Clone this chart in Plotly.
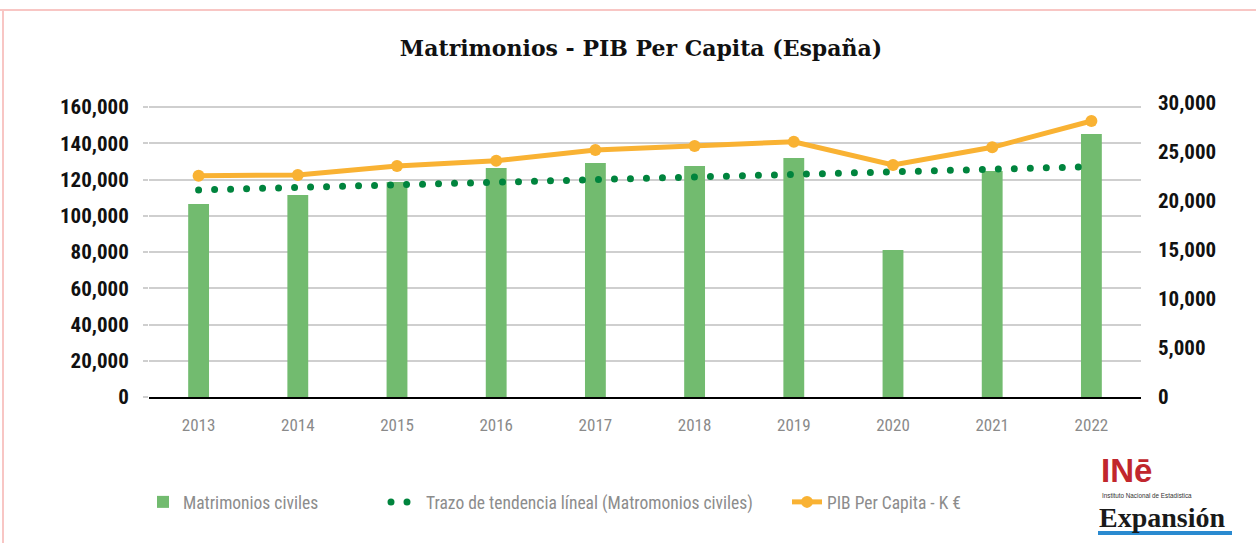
import plotly.graph_objects as go

# ---------------- data ----------------
years = ["2013", "2014", "2015", "2016", "2017", "2018", "2019", "2020", "2021", "2022"]
matrimonios_civiles = [106500, 111400, 118600, 126300, 129100, 127400, 131900, 81100, 124700, 145100]
pib_per_capita = [22580, 22650, 23570, 24110, 25200, 25610, 26050, 23670, 25480, 28160]
trend_years = ["2013", "2022"]
trend_values = [114200, 127100]

left_ticks = [0, 20000, 40000, 60000, 80000, 100000, 120000, 140000, 160000]
right_ticks = [0, 5000, 10000, 15000, 20000, 25000, 30000]

title_text = "Matrimonios - PIB Per Capita (España)"
name_bars = "Matrimonios civiles"
name_trend = "Trazo de tendencia líneal (Matromonios civiles)"
name_pib = "PIB Per Capita - K €"

# ---------------- styling ----------------
W, H = 1256, 543
ML, MR, MT, MB = 149, 115, 103, 146
PW, PH = W - ML - MR, H - MT - MB

def px_x(px):
    return (px - ML) / PW

def px_y(py):
    return (H - MB - py) / PH

NARROW = "Roboto Condensed, Roboto, sans-serif"
BAR_C = "#72BB6F"
TREND_C = "#00843D"
PIB_C = "#F9B233"
GRID_C = "#CFCFCF"
LEG_C = "#8C8C8C"

fig = go.Figure()

fig.add_trace(go.Bar(
    x=years, y=matrimonios_civiles, name=name_bars,
    marker=dict(color=BAR_C, line=dict(width=0)), width=0.21,
    legend="legend", yaxis="y", showlegend=True,
))
fig.add_trace(go.Scatter(
    x=trend_years, y=trend_values, name=name_trend, mode="lines",
    line=dict(color=TREND_C, width=7, dash="0px,16px"),
    legend="legend2", yaxis="y", showlegend=True,
))
fig.add_trace(go.Scatter(
    x=years, y=pib_per_capita, name=name_pib, mode="lines+markers",
    line=dict(color=PIB_C, width=5), marker=dict(color=PIB_C, size=12),
    legend="legend3", yaxis="y2", showlegend=True,
))

left_max = 160000 * PH / 290.0

leg_common = dict(orientation="h", yanchor="middle", xanchor="left",
                  font=dict(family=NARROW, size=17.5, color=LEG_C),
                  bgcolor="rgba(0,0,0,0)", borderwidth=0)
legend_y = px_y(502)

shapes = [
    # pink page border
    dict(type="line", xref="paper", yref="paper", x0=px_x(0), x1=px_x(1260),
         y0=px_y(10), y1=px_y(10), line=dict(color="#F8C6C4", width=2)),
    dict(type="line", xref="paper", yref="paper", x0=px_x(3), x1=px_x(3),
         y0=px_y(10), y1=px_y(548), line=dict(color="#F8C6C4", width=2)),
    # Expansión blue underline
    dict(type="rect", xref="paper", yref="paper", x0=px_x(1098), x1=px_x(1232),
         y0=px_y(535), y1=px_y(531), fillcolor="#2A8AD0", line=dict(width=0)),
]

annotations = [
    dict(text="INē", xref="paper", yref="paper",
         x=px_x(1099), y=px_y(491), xanchor="left", yanchor="bottom", showarrow=False,
         font=dict(family="Liberation Sans, Arial, sans-serif", size=33, color="#C1272D", weight="bold")),
    dict(text="Instituto Nacional de Estadística", xref="paper", yref="paper",
         x=px_x(1100), y=px_y(490), xanchor="left", yanchor="top", showarrow=False,
         font=dict(family="Liberation Sans, Arial, sans-serif", size=6.3, color="#333333")),
    dict(text="<b>Expansión</b>", xref="paper", yref="paper",
         x=px_x(1097), y=px_y(517), xanchor="left", yanchor="middle", showarrow=False,
         font=dict(family="Liberation Serif, Times New Roman, serif", size=28, color="#1A1A1A")),
]

fig.update_layout(
    width=W, height=H,
    margin=dict(l=ML, r=MR, t=MT, b=MB, pad=0),
    paper_bgcolor="white", plot_bgcolor="white",
    showlegend=True,
    title=dict(text=title_text, x=641 / W, xref="container", xanchor="center",
               y=1 - 48 / H, yref="container", yanchor="middle",
               font=dict(family="DejaVu Serif, serif", size=22, color="#111111", weight="bold")),
    xaxis=dict(type="category", range=[-0.5, len(years) - 0.5], automargin=False,
               showgrid=False, showline=True, linecolor="#000000", linewidth=1.5,
               ticks="", tickfont=dict(family=NARROW, size=17, color="#8A8A8A"),
               ticklabelstandoff=12),
    yaxis=dict(range=[0, left_max], tickvals=left_ticks, tickformat=",d", automargin=False,
               showgrid=True, gridcolor=GRID_C, gridwidth=1.5, zeroline=False,
               ticks="outside", ticklen=5, tickcolor=GRID_C, tickwidth=1.5,
               tickfont=dict(family=NARROW, size=21, color="#111111", weight="bold"),
               ticklabelstandoff=10),
    yaxis2=dict(range=[0, 30000], tickvals=right_ticks, tickformat=",d", overlaying="y", side="right",
                automargin=False, showgrid=False, zeroline=False, ticks="",
                tickfont=dict(family=NARROW, size=21, color="#111111", weight="bold"),
                ticklabelstandoff=16),
    legend=dict(x=px_x(143), y=legend_y, **leg_common),
    legend2=dict(x=px_x(386), y=legend_y, **leg_common),
    legend3=dict(x=px_x(787), y=legend_y, **leg_common),
    shapes=shapes, annotations=annotations,
    bargap=0.79,
)

post = """
document.body.style.margin='0';
document.body.style.overflow='hidden';
var s=document.createElement('style');
s.textContent='path.js-line[style*="rgb(0, 132, 61)"]{stroke-linecap:round;}';
document.head.appendChild(s);
"""

fig.write_html("out.html", post_script=post, config={"displayModeBar": False})
